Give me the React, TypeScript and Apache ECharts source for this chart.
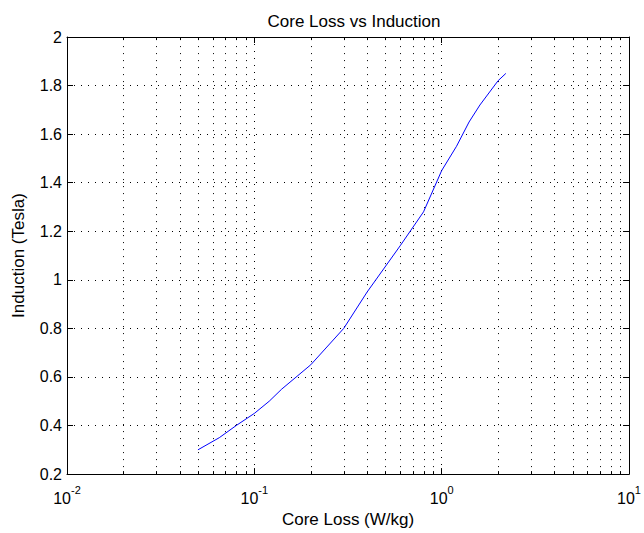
import React, { useEffect, useRef } from "react";
import * as echarts from "echarts";

// Core loss (W/kg) against peak induction (T)
const coreLoss = [0.05, 0.065, 0.08, 0.1, 0.12, 0.14, 0.2, 0.3, 0.4, 0.6, 0.8, 1.0, 1.2, 1.4, 1.6, 2.0, 2.2];
const induction = [0.3, 0.35, 0.4, 0.45, 0.5, 0.55, 0.65, 0.8, 0.95, 1.14, 1.28, 1.45, 1.55, 1.65, 1.72, 1.82, 1.85];

const xMin = 0.01;
const xMax = 10;
const yMin = 0.2;
const yMax = 2;
const yStep = 0.2;

// log-axis minor positions: 2..9 within each decade
const decades = [0.01, 0.1, 1];
const minorMultipliers = [2, 3, 4, 5, 6, 7, 8, 9];
const minorTickValues: number[] = [];
decades.forEach((d) => minorMultipliers.forEach((m) => minorTickValues.push(+(m * d).toPrecision(3))));

const FONT = "'Liberation Sans', Arial, Helvetica, sans-serif";
const DOT: number[] = [1, 6];

function powerLabel(v: number): string {
  const e = Math.round(Math.log10(v));
  return `{b|10}{s|${e}}`;
}

export default function App() {
  const ref = useRef<HTMLDivElement>(null);

  useEffect(() => {
    if (!ref.current) return;
    const chart = echarts.init(ref.current, null, { renderer: "svg" });

    const logAxisBase = {
      type: "log" as const,
      logBase: 10,
      min: xMin,
      max: xMax,
      axisLine: { show: true, lineStyle: { color: "#000", width: 1 } },
      axisTick: { show: true, inside: true, length: 6, lineStyle: { color: "#000" } },
      minorTick: { show: false },
    };
    const valueAxisBase = {
      type: "value" as const,
      min: yMin,
      max: yMax,
      interval: yStep,
      axisLine: { show: true, lineStyle: { color: "#000", width: 1 } },
      axisTick: { show: true, inside: true, length: 6, lineStyle: { color: "#000" } },
    };

    chart.setOption({
      animation: false,
      backgroundColor: "#fff",
      textStyle: { fontFamily: FONT },
      title: {
        text: "Core Loss vs Induction",
        left: 349,
        textAlign: "center",
        top: 8,
        textStyle: { fontFamily: FONT, fontSize: 17, fontWeight: "normal", color: "#000" },
      },
      grid: { left: 67, top: 37, width: 564, height: 445, containLabel: false },
      xAxis: [
        {
          ...logAxisBase,
          position: "bottom",
          name: "Core Loss (W/kg)",
          nameLocation: "middle",
          nameGap: 34,
          nameTextStyle: { fontFamily: FONT, fontSize: 17, color: "#000" },
          axisLabel: {
            show: true,
            margin: 10,
            color: "#000",
            formatter: (v: number) => powerLabel(v),
            rich: {
              b: { fontFamily: FONT, fontSize: 16, color: "#000", lineHeight: 22, verticalAlign: "bottom" },
              s: { fontFamily: FONT, fontSize: 11, color: "#000", lineHeight: 22, verticalAlign: "top" },
            },
          },
          splitLine: { show: true, lineStyle: { color: "#000", type: DOT, width: 1 } },
        },
        {
          ...logAxisBase,
          position: "top",
          axisLabel: { show: false },
          splitLine: { show: false },
        },
      ],
      yAxis: [
        {
          ...valueAxisBase,
          position: "left",
          name: "Induction (Tesla)",
          nameLocation: "middle",
          nameGap: 40,
          nameTextStyle: { fontFamily: FONT, fontSize: 17, color: "#000" },
          axisLabel: {
            show: true,
            margin: 5,
            color: "#000",
            fontFamily: FONT,
            fontSize: 16,
            formatter: (v: number) => String(+v.toFixed(1)),
          },
          splitLine: { show: true, lineStyle: { color: "#000", type: DOT, width: 1 } },
        },
        {
          ...valueAxisBase,
          position: "right",
          axisLabel: { show: false },
          splitLine: { show: false },
        },
      ],
      series: [
        {
          // minor grid lines and minor ticks of the log axis
          type: "custom",
          xAxisIndex: 0,
          yAxisIndex: 0,
          silent: true,
          z: 1,
          clip: false,
          data: minorTickValues.map((v) => [v, yMin]),
          encode: { x: 0, y: 1 },
          renderItem: (_params: any, api: any) => {
            const v = api.value(0);
            const b = api.coord([v, yMin]);
            const t = api.coord([v, yMax]);
            const x = Math.round(b[0]) + 0.5;
            return {
              type: "group",
              children: [
                {
                  type: "line",
                  shape: { x1: x, y1: b[1], x2: x, y2: t[1] },
                  style: { stroke: "#000", lineWidth: 1, lineDash: DOT },
                },
                {
                  type: "line",
                  shape: { x1: x, y1: b[1], x2: x, y2: b[1] - 3 },
                  style: { stroke: "#000", lineWidth: 1 },
                },
                {
                  type: "line",
                  shape: { x1: x, y1: t[1], x2: x, y2: t[1] + 3 },
                  style: { stroke: "#000", lineWidth: 1 },
                },
              ],
            };
          },
        },
        {
          type: "line",
          xAxisIndex: 0,
          yAxisIndex: 0,
          z: 5,
          data: coreLoss.map((x, i) => [x, induction[i]]),
          showSymbol: false,
          symbol: "none",
          lineStyle: { color: "#0000ff", width: 1 },
        },
      ],
    });

    return () => chart.dispose();
  }, []);

  return (
    <div
      ref={ref}
      style={{ position: "fixed", left: 0, top: 0, width: 644, height: 533, background: "#fff" }}
    />
  );
}
